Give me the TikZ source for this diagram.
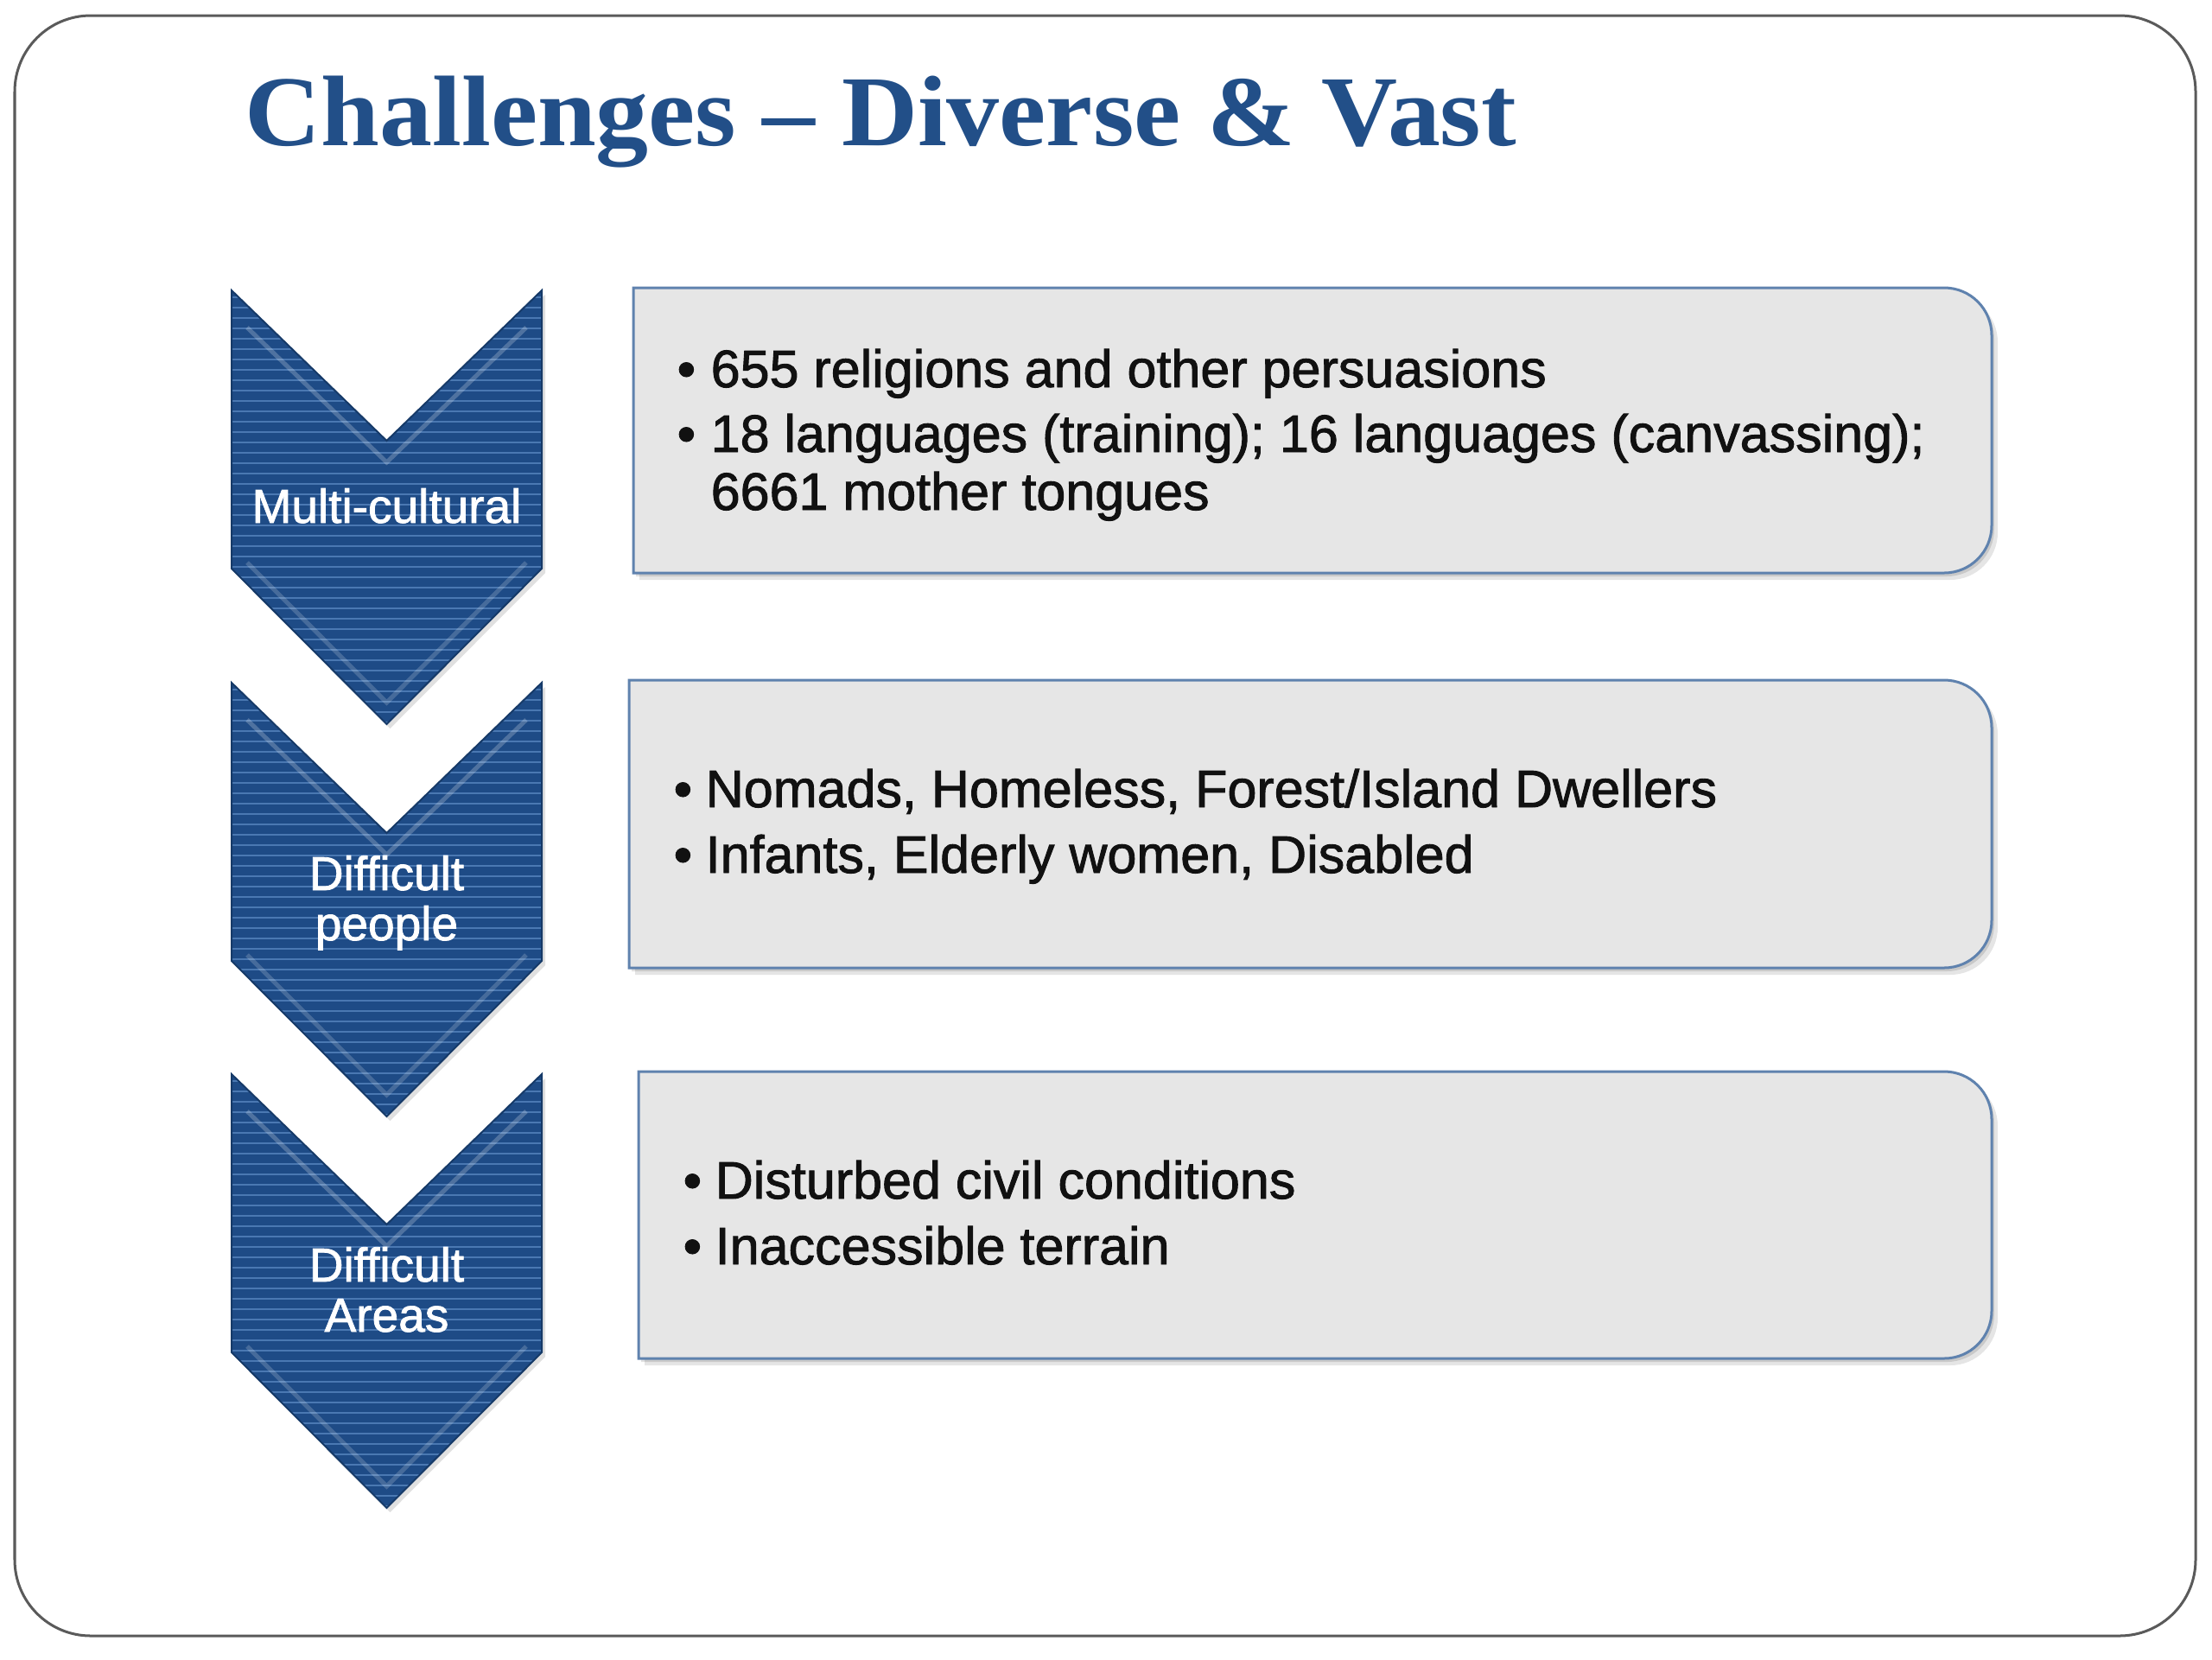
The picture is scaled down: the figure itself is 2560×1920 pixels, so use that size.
\documentclass[tikz,border=0pt]{standalone}
\usepackage{fontspec}
\setmainfont{Liberation Sans}
\newfontfamily\bodyfont[FakeBold=1.5]{Liberation Sans}
\newfontfamily\titlefont[FakeStretch=1.05]{Liberation Serif}
\definecolor{titleblue}{HTML}{224F88}
\definecolor{chevblue}{HTML}{1E4B86}
\definecolor{chevstripe}{HTML}{4A78B2}
\definecolor{chevedge}{HTML}{163A68}
\definecolor{boxfill}{HTML}{E6E6E6}
\definecolor{boxedge}{HTML}{5F82AE}
\definecolor{frameedge}{HTML}{5A5A5A}
\definecolor{bodytext}{HTML}{111111}
\tikzset{
  titletext/.style={font=\titlefont\bfseries\fontsize{33}{40}\selectfont, text=titleblue, anchor=base west, inner sep=0pt},
  bodyline/.style={font=\bodyfont\fontsize{17.36}{20}\selectfont, text=bodytext, anchor=base west, inner sep=0pt},
  labline/.style={font=\bodyfont\fontsize{15.65}{18}\selectfont, text=white, anchor=base, inner sep=0pt},
  cbox/.style n args={3}{insert path={(#1,#2) -- (2250,#2) .. controls (2280.4,#2) and (2305,{#2+24.6}) .. (2305,{#2+55}) -- (2305,{#3-55}) .. controls (2305,{#3-24.6}) and (2280.4,#3) .. (2250,#3) -- (#1,#3) -- cycle}},
  chev/.style={insert path={(268,#1) -- (447.5,{#1+174}) -- (627,#1) -- (627,{#1+322}) -- (447.5,{#1+502}) -- (268,{#1+322}) -- cycle}},
  boxline/.style={draw=boxedge, line width=0.03cm, fill=boxfill},
  chevline/.style={draw=chevedge, line width=0.02cm},
}
\begin{document}
\begin{tikzpicture}[x=0.01cm,y=-0.01cm]
\useasboundingbox (0,0) rectangle (2560,1920);
\fill[white] (0,0) rectangle (2560,1920);
\draw[frameedge, line width=0.03cm, rounded corners=0.88cm] (17,18) rectangle (2541,1893);

\node[titletext] (title) at (283,168) {Challenges – Diverse \& Vast};

% chevrons
\foreach \ty in {336,790,1243} {
  \fill[black, opacity=0.12, shift={(4,5)}, chev=\ty];
  \begin{scope}
    \clip[chev=\ty];
    \fill[chevblue] (260,\ty) rectangle (640,{\ty+510});
    \foreach \k in {0,...,42} {
      \draw[chevstripe, line width=0.022cm] (260,{\ty+8+12*\k}) -- (640,{\ty+8+12*\k});
    }
    \draw[white, opacity=0.22, line width=0.05cm] (286,{\ty+43}) -- (447.5,{\ty+199}) -- (609,{\ty+43});
    \draw[white, opacity=0.18, line width=0.05cm] (286,{\ty+315}) -- (447.5,{\ty+477}) -- (609,{\ty+315});
  \end{scope}
  \path[chevline, chev=\ty];
}

\node[labline] (l1) at (447.5,605) {Multi-cultural};
\node[labline] (l2a) at (447.5,1030) {Difficult};
\node[labline] (l2b) at (447.5,1088) {people};
\node[labline] (l3a) at (447.5,1483) {Difficult};
\node[labline] (l3b) at (447.5,1541) {Areas};

% boxes
\foreach \L/\ty/\B in {733/333/663, 728/787/1120, 739/1240/1572} {
  \fill[black, opacity=0.10, shift={(7,8)}, cbox={\L}{\ty}{\B}];
  \fill[black, opacity=0.12, shift={(3,4)}, cbox={\L}{\ty}{\B}];
  \path[boxline, cbox={\L}{\ty}{\B}];
}

\node[bodyline] (b1a) at (783,448) {\textbullet};
\node[bodyline] (t1a) at (822,448) {655 religions and other persuasions};
\node[bodyline] (b1b) at (783,523) {\textbullet};
\node[bodyline] (t1b) at (822,523) {18 languages (training); 16 languages (canvassing);};
\node[bodyline] (t1c) at (822,590) {6661 mother tongues};

\node[bodyline] (b2a) at (779,934) {\textbullet};
\node[bodyline] (t2a) at (816,934) {Nomads, Homeless, Forest/Island Dwellers};
\node[bodyline] (b2b) at (779,1010) {\textbullet};
\node[bodyline] (t2b) at (816,1010) {Infants, Elderly women, Disabled};

\node[bodyline] (b3a) at (790,1387) {\textbullet};
\node[bodyline] (t3a) at (827,1387) {Disturbed civil conditions};
\node[bodyline] (b3b) at (790,1463) {\textbullet};
\node[bodyline] (t3b) at (827,1463) {Inaccessible terrain};
\end{tikzpicture}
\end{document}
